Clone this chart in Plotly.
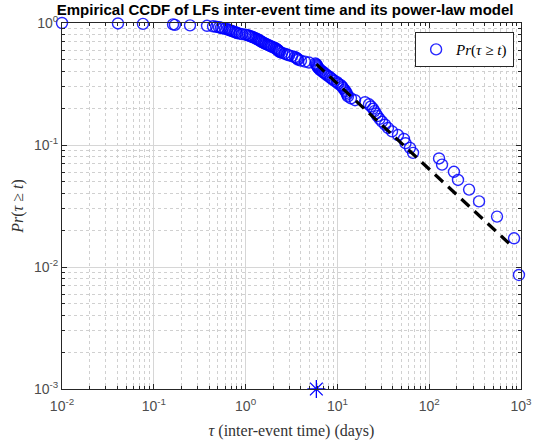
import plotly.graph_objects as go

# Empirical CCDF data (inter-event time tau in days, sorted ascending) and Pr(tau >= t)
tau = [0.0100, 0.0407, 0.0762, 0.162, 0.170, 0.248, 0.380, 0.442, 0.477, 0.513,
       0.540, 0.560, 0.597, 0.635, 0.659, 0.676, 0.701, 0.729, 0.757, 0.786,
       0.806, 0.859, 0.914, 0.998, 1.062, 1.103, 1.145, 1.189, 1.235, 1.282,
       1.315, 1.366, 1.400, 1.435, 1.472, 1.509, 1.567, 1.607, 1.668, 1.733,
       1.799, 1.868, 1.939, 2.039, 2.117, 2.171, 2.227, 2.283, 2.312, 2.371,
       2.493, 2.655, 2.827, 2.972, 3.200, 3.451, 3.583, 3.673, 3.724, 4.009,
       4.436, 4.909, 5.768, 5.915, 5.995, 6.068, 6.146, 6.306, 6.457, 6.714,
       6.966, 7.228, 7.516, 7.798, 8.204, 8.511, 8.851, 9.290, 9.908, 10.16,
       10.81, 11.22, 11.51, 11.94, 12.25, 12.56, 12.74, 13.03, 14.06, 15.56,
       20.0, 22.08, 23.23, 24.43, 25.35, 26.30, 27.35, 28.77, 30.62, 33.04,
       35.56, 39.36, 45.71, 53.09, 55.21, 61.76, 66.68, 128.0, 138.0, 186.0,
       206.0, 272.0, 349.0, 548.0, 840.0, 950.0]
ccdf = [1.0, 0.9914, 0.9828, 0.9741, 0.9655, 0.9569, 0.9483, 0.9397, 0.9310, 0.9224,
        0.9138, 0.9052, 0.8966, 0.8879, 0.8793, 0.8707, 0.8621, 0.8534, 0.8448, 0.8362,
        0.8276, 0.8190, 0.8103, 0.8017, 0.7931, 0.7845, 0.7759, 0.7672, 0.7586, 0.7500,
        0.7414, 0.7328, 0.7241, 0.7155, 0.7069, 0.6983, 0.6897, 0.6810, 0.6724, 0.6638,
        0.6552, 0.6466, 0.6379, 0.6293, 0.6207, 0.6121, 0.6034, 0.5948, 0.5862, 0.5776,
        0.5690, 0.5603, 0.5517, 0.5431, 0.5345, 0.5259, 0.5172, 0.5086, 0.5000, 0.4914,
        0.4828, 0.4741, 0.4655, 0.4569, 0.4483, 0.4397, 0.4310, 0.4224, 0.4138, 0.4052,
        0.3966, 0.3879, 0.3793, 0.3707, 0.3621, 0.3534, 0.3448, 0.3362, 0.3276, 0.3190,
        0.3103, 0.3017, 0.2931, 0.2845, 0.2759, 0.2672, 0.2586, 0.2500, 0.2414, 0.2328,
        0.2241, 0.2155, 0.2069, 0.1983, 0.1897, 0.1810, 0.1724, 0.1638, 0.1552, 0.1466,
        0.1379, 0.1293, 0.1207, 0.1121, 0.1034, 0.0948, 0.0862, 0.0776, 0.0690, 0.0603,
        0.0517, 0.0431, 0.0345, 0.0259, 0.0172, 0.0086]

# Power-law model line (from xmin to tail end)
fit_tau = [5.9, 800.0]
fit_ccdf = [0.46, 0.0148]

# xmin marker
xmin_tau = [5.9]
xmin_y = [0.001]

x_tickvals = [0.01, 0.1, 1, 10, 100, 1000]
x_ticktext = ["10<sup>-2</sup>", "10<sup>-1</sup>", "10<sup>0</sup>",
              "10<sup>1</sup>", "10<sup>2</sup>", "10<sup>3</sup>"]
y_tickvals = [0.001, 0.01, 0.1, 1]
y_ticktext = ["10<sup>-3</sup>", "10<sup>-2</sup>", "10<sup>-1</sup>", "10<sup>0</sup>"]

minor_x = [m * 10.0 ** e for e in range(-2, 3) for m in range(2, 10)]
minor_y = [m * 10.0 ** e for e in range(-3, 0) for m in range(2, 10)]

fig = go.Figure()
fig.add_trace(go.Scatter(
    x=tau, y=ccdf, mode="markers", name="<i>Pr</i>(<i>τ</i> ≥ <i>t</i>)",
    marker=dict(symbol="circle-open", size=11, color="rgba(0,0,255,0.85)",
                line=dict(width=1.4, color="rgba(0,0,255,0.85)")),
    cliponaxis=False,
))
fig.add_trace(go.Scatter(
    x=fit_tau, y=fit_ccdf, mode="lines", showlegend=False,
    line=dict(color="black", width=3.2, dash="11px,7px"),
))
fig.add_trace(go.Scatter(
    x=xmin_tau, y=xmin_y, mode="markers", showlegend=False,
    marker=dict(symbol="asterisk-open", size=15, color="blue",
                line=dict(width=1.3, color="blue")),
    cliponaxis=False,
))

axis_common = dict(
    type="log", showline=True, linecolor="#262626", linewidth=1, mirror="allticks",
    ticks="inside", ticklen=5, tickcolor="#262626",
    showgrid=True, gridcolor="#d6d6d6", gridwidth=1,
    zeroline=False, tickmode="array", automargin=False,
    tickfont=dict(family="Liberation Sans, Arial, sans-serif", size=14, color="#4d4d4d"),
)

fig.update_xaxes(
    **axis_common, range=[-2, 3], tickvals=x_tickvals, ticktext=x_ticktext,
    ticklabelstandoff=4,
    minor=dict(tickmode="array", tickvals=minor_x, ticks="inside", ticklen=3,
               tickcolor="#262626", showgrid=True, gridcolor="#d0d0d0", griddash="dot"),
    title=dict(text="<i>τ</i> (inter-event time) (days)",
               font=dict(family="Liberation Serif, Times New Roman, serif", size=16, color="#333333"),
               standoff=12),
)
fig.update_yaxes(
    **axis_common, range=[-3, 0], tickvals=y_tickvals, ticktext=y_ticktext,
    minor=dict(tickmode="array", tickvals=minor_y, ticks="inside", ticklen=3,
               tickcolor="#262626", showgrid=True, gridcolor="#d0d0d0", griddash="dot"),
    title=dict(text="<i>Pr</i>(<i>τ</i> ≥ <i>t</i>)",
               font=dict(family="Liberation Serif, Times New Roman, serif", size=16, color="#333333"),
               standoff=6),
)

fig.update_layout(
    width=536, height=441,
    margin=dict(l=62, r=15, t=23, b=52, autoexpand=False),
    paper_bgcolor="white", plot_bgcolor="white",
    title=dict(text="<b>Empirical CCDF of LFs inter-event time and its power-law model</b>",
               x=0.532, xref="container", xanchor="center",
               y=0.978, yref="container", yanchor="middle", automargin=False,
               font=dict(family="Liberation Sans, Arial, sans-serif", size=15, color="black")),
    legend=dict(x=0.985, y=0.975, xanchor="right", yanchor="top",
                bgcolor="white", bordercolor="#262626", borderwidth=1,
                font=dict(family="Liberation Serif, Times New Roman, serif", size=15, color="black"),
                itemwidth=30, tracegroupgap=0),
    showlegend=True,
)

fig.write_html("out.html", config={"displayModeBar": False},
               post_script="document.body.style.margin='0';document.body.style.overflow='hidden';")
